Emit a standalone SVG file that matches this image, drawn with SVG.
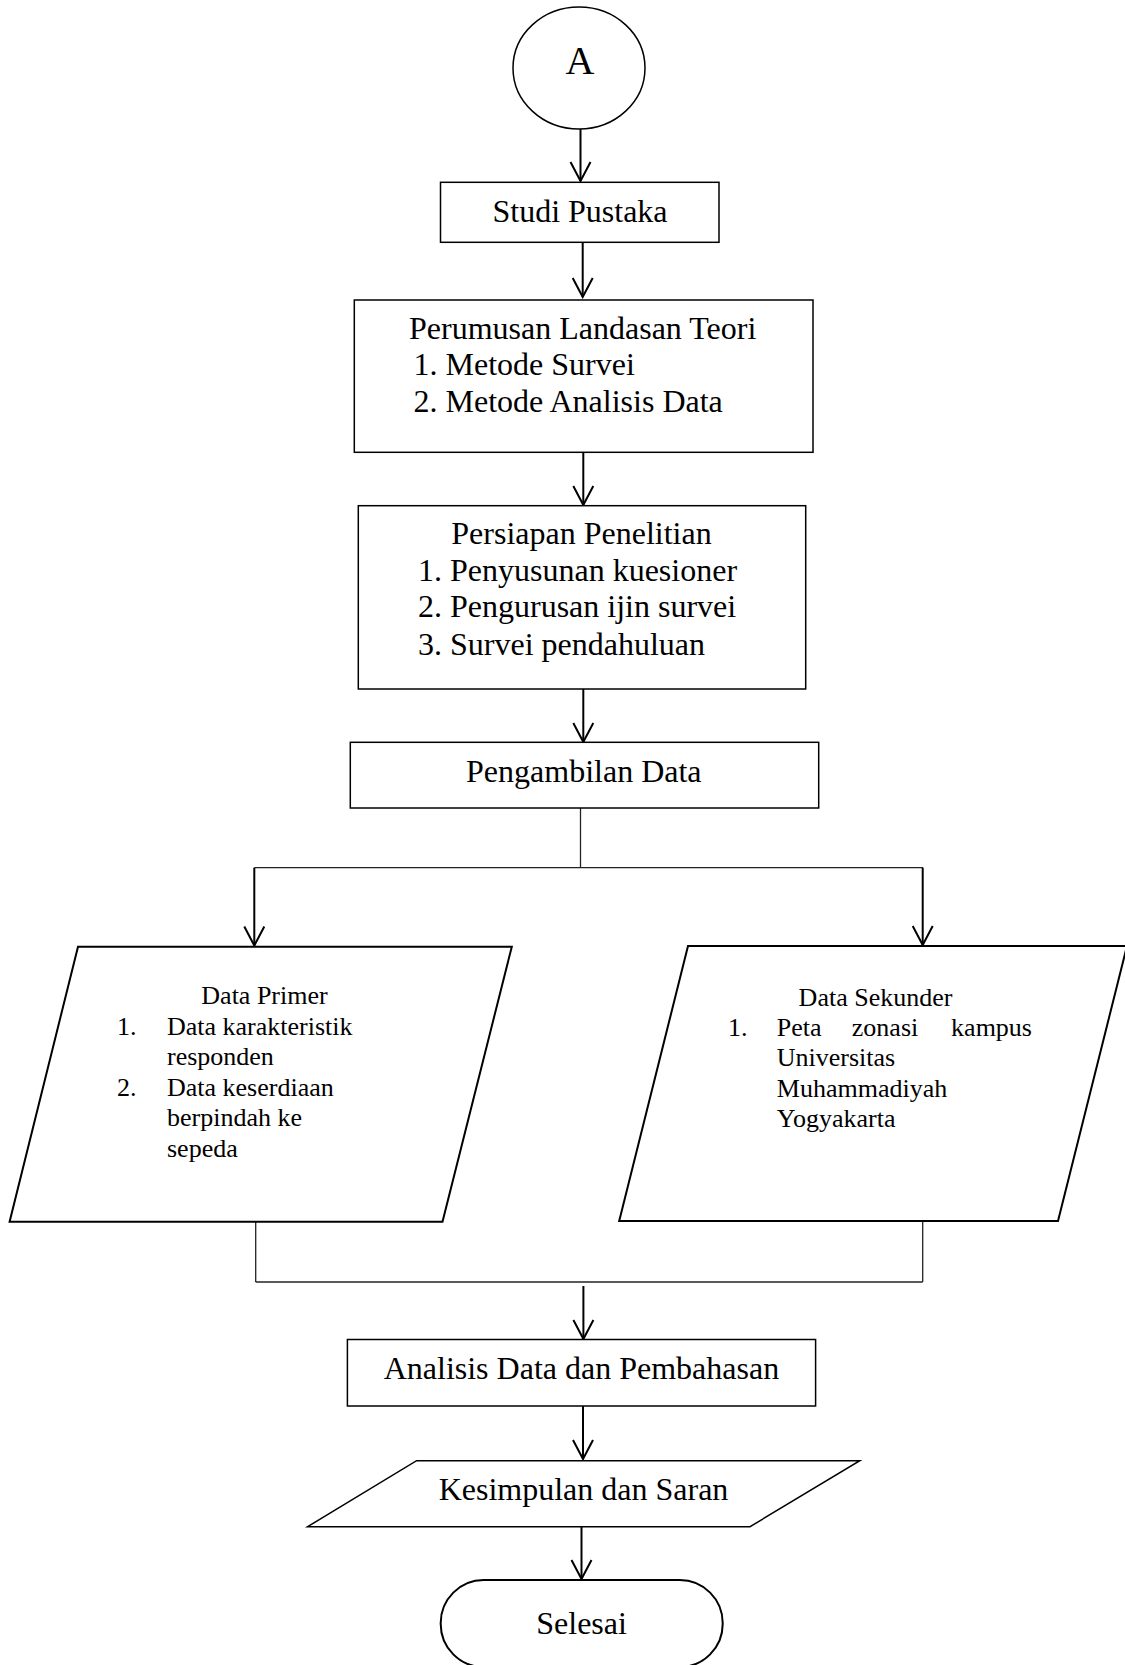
<svg xmlns="http://www.w3.org/2000/svg" width="1125" height="1665" viewBox="0 0 1125 1665">
<style>
  text { font-family: "Liberation Serif", "Times New Roman", serif; fill: #000; }
  .t32 { font-size: 32px; }
  .t26 { font-size: 26px; }
  .c { text-anchor: middle; }
  .box { fill: #fff; stroke: #000; stroke-width: 1.5; }
  .io { fill: #fff; stroke: #000; stroke-width: 2; }
  .arr { fill: none; stroke: #000; stroke-width: 2; marker-end: url(#vh); }
  .thin { fill: none; stroke: #222; stroke-width: 1.3; }
</style>
<defs>
  <marker id="vh" viewBox="-21 -12 23 24" refX="0" refY="0" markerWidth="23" markerHeight="24" markerUnits="userSpaceOnUse" orient="auto">
    <path d="M-19,-10 L0,0 L-19,10" fill="none" stroke="#000" stroke-width="2"/>
  </marker>
</defs>

<g id="connectors">
  <line class="arr" x1="580.5" y1="129" x2="580.5" y2="181"/>
  <line class="arr" x1="582.7" y1="242.3" x2="582.7" y2="297"/>
  <line class="arr" x1="583.3" y1="452.3" x2="583.3" y2="505"/>
  <line class="arr" x1="583.3" y1="689" x2="583.3" y2="742"/>
  <line class="thin" x1="580.5" y1="808" x2="580.5" y2="867.7"/>
  <line class="thin" x1="254.3" y1="867.7" x2="923" y2="867.7"/>
  <line class="arr" x1="254.3" y1="867.7" x2="254.3" y2="945.5"/>
  <line class="arr" x1="922.7" y1="867.7" x2="922.7" y2="945"/>
  <line class="thin" x1="255.7" y1="1222" x2="255.7" y2="1282"/>
  <line class="thin" x1="922.7" y1="1221" x2="922.7" y2="1282"/>
  <line class="thin" x1="255.7" y1="1282" x2="922.7" y2="1282"/>
  <line class="arr" x1="583.4" y1="1286" x2="583.4" y2="1339"/>
  <line class="arr" x1="583" y1="1406" x2="583" y2="1459"/>
  <line class="arr" x1="581.5" y1="1527" x2="581.5" y2="1579"/>
</g>

<g id="node-a">
  <ellipse cx="579" cy="68" rx="66" ry="61" fill="#fff" stroke="#000" stroke-width="1.5"/>
  <text x="580" y="74" class="c" font-size="40">A</text>
</g>

<g id="node-studi">
  <rect class="box" x="440.5" y="182.3" width="278.5" height="60"/>
  <text x="580" y="221.7" class="t32 c">Studi Pustaka</text>
</g>

<g id="node-perumusan">
  <rect class="box" x="354.3" y="300" width="458.7" height="152.3"/>
  <text x="582.7" y="339.3" class="t32 c">Perumusan Landasan Teori</text>
  <text x="413.5" y="375" class="t32">1. Metode Survei</text>
  <text x="413.5" y="412.3" class="t32">2. Metode Analisis Data</text>
</g>

<g id="node-persiapan">
  <rect class="box" x="358.3" y="505.7" width="447.4" height="183.3"/>
  <text x="581.5" y="544" class="t32 c">Persiapan Penelitian</text>
  <text x="418" y="580.7" class="t32">1. Penyusunan kuesioner</text>
  <text x="418" y="617.4" class="t32">2. Pengurusan ijin survei</text>
  <text x="418" y="654.5" class="t32">3. Survei pendahuluan</text>
</g>

<g id="node-pengambilan">
  <rect class="box" x="350.3" y="742.3" width="468.4" height="65.7"/>
  <text x="583.8" y="781.7" class="t32 c">Pengambilan Data</text>
</g>

<g id="node-primer">
  <polygon class="io" points="78,946.7 511.8,946.7 442.5,1221.7 9.6,1221.7"/>
  <text x="264.5" y="1004" class="t26 c">Data Primer</text>
  <text x="117" y="1034.5" class="t26">1.</text>
  <text x="167" y="1034.5" class="t26">Data karakteristik</text>
  <text x="167" y="1065" class="t26">responden</text>
  <text x="117" y="1095.5" class="t26">2.</text>
  <text x="167" y="1095.5" class="t26">Data keserdiaan</text>
  <text x="167" y="1126" class="t26">berpindah ke</text>
  <text x="167" y="1156.5" class="t26">sepeda</text>
</g>

<g id="node-sekunder">
  <polygon class="io" points="688,946 1127,946 1058,1221 619.2,1221"/>
  <text x="875.5" y="1006" class="t26 c">Data Sekunder</text>
  <text x="728" y="1036" class="t26">1.</text>
  <text x="776.8" y="1036" class="t26">Peta</text>
  <text x="851.8" y="1036" class="t26">zonasi</text>
  <text x="1032" y="1036" class="t26" text-anchor="end">kampus</text>
  <text x="776.8" y="1066" class="t26">Universitas</text>
  <text x="776.8" y="1096.7" class="t26">Muhammadiyah</text>
  <text x="776.8" y="1126.7" class="t26">Yogyakarta</text>
</g>

<g id="node-analisis">
  <rect class="box" x="347.4" y="1339.5" width="468.2" height="66.5"/>
  <text x="581.4" y="1379.3" class="t32 c">Analisis Data dan Pembahasan</text>
</g>

<g id="node-kesimpulan">
  <polygon class="box" points="416.6,1460.7 859.8,1460.7 750,1526.7 307.6,1526.7"/>
  <text x="583.5" y="1500" class="t32 c">Kesimpulan dan Saran</text>
</g>

<g id="node-selesai">
  <rect x="440.7" y="1580" width="282" height="87" rx="43" ry="43" fill="#fff" stroke="#000" stroke-width="2"/>
  <text x="581.6" y="1634" class="t32 c">Selesai</text>
</g>
</svg>
